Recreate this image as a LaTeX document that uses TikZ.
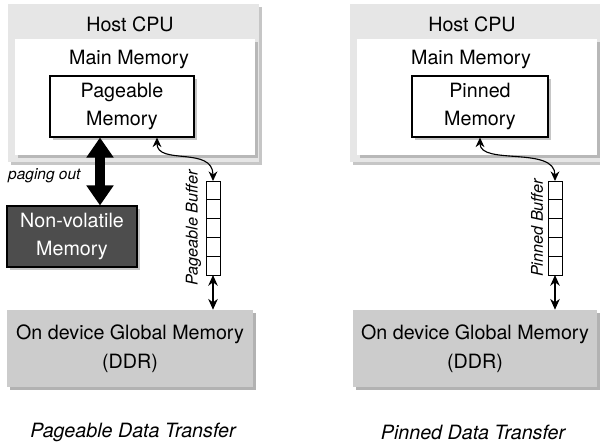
\documentclass[tikz,border=0pt]{standalone}
\usepackage{fontspec}
\setmainfont{TeX Gyre Heros}
\usepackage{xcolor}
\usetikzlibrary{shapes,arrows.meta,positioning,calc,shadows}

\definecolor{hostgray}{HTML}{E6E6E6}
\definecolor{hostshade}{HTML}{C6C6C6}
\definecolor{memshade}{HTML}{B8B8B8}
\definecolor{ddrgray}{HTML}{CCCCCC}
\definecolor{ddrshade}{HTML}{B2B2B2}
\definecolor{nvgray}{HTML}{4D4D4D}

\begin{document}
\begin{tikzpicture}[x=0.025cm, y=-0.025cm,
    box/.style={rectangle, inner sep=0pt, align=center, font=\fontsize{14}{20.5}\selectfont},
    shade/.style={general shadow={fill=#1, shadow xshift=0.075cm, shadow yshift=-0.075cm}},
    host/.style={box, fill=hostgray, shade=hostshade, minimum height=3.95cm},
    mainmem/.style={box, fill=white, shade=memshade, minimum width=6cm, minimum height=2.9cm},
    hostmem/.style={box, draw, line width=0.75pt, fill=white, shade=hostshade, minimum height=1.525cm},
    nvmem/.style={box, draw, line width=0.75pt, fill=nvgray, text=white, shade=hostshade, minimum width=3.25cm, minimum height=1.525cm},
    ddr/.style={box, fill=ddrgray, shade=ddrshade, minimum height=1.925cm},
    title/.style={font=\fontsize{14}{17}\selectfont},
    cell/.style={rectangle, draw, line width=0.65pt, fill=white, minimum width=0.35cm, minimum height=0.47cm, inner sep=0pt, outer sep=0pt},
    buflabel/.style={rotate=90, anchor=south, font=\fontsize{11.5}{13}\selectfont\itshape},
    caption/.style={font=\fontsize{14}{17}\selectfont\itshape},
    link/.style={{Stealth[length=0.24cm,width=0.22cm]}-{Stealth[length=0.24cm,width=0.22cm]}, line width=0.8pt},
    dbl/.style={{Stealth[length=0.27cm,width=0.24cm]}-{Stealth[length=0.27cm,width=0.24cm]}, line width=1.1pt},
    bigarrow/.style={{Triangle[length=0.5cm,width=0.65cm]}-{Triangle[length=0.5cm,width=0.65cm]}, line width=0.25cm}]

    \useasboundingbox (0,0) rectangle (600,446);

    % pageable side
    \node[host, minimum width=6.275cm] (hostL) at (133.5,83) {};
    \node[title] (cpuL) at (130,24) {Host CPU};
    \node[mainmem] (memL) at (135,97) {};
    \node[title] (mmL) at (129,59) {Main Memory};
    \node[hostmem, minimum width=3.6cm] (pageL) at (122,106.5) {Pageable\\Memory};
    \node[nvmem] (nvL) at (72,236.5) {Non-volatile\\Memory};
    \node[ddr, minimum width=6.15cm] (ddrL) at (130,348.5) {On device Global Memory\\(DDR)};

    \node[cell] (bufL1) at (213,190.4) {};
    \foreach \i [evaluate=\i as \j using int(\i-1)] in {2,...,5}
        \node[cell, below=0pt of bufL\j] (bufL\i) {};
    \node[buflabel] (labL) at (bufL3.west) {Pageable Buffer};

    \draw[bigarrow] ([xshift=-0.55cm]pageL.south) -- node[left=7pt, pos=0.56, font=\fontsize{11}{13}\selectfont\itshape] {paging out} ([xshift=-0.55cm]pageL.south |- nvL.north);
    \draw[link] ([xshift=0.875cm]pageL.south) .. controls +(0,28) and +(0,-35) .. (bufL1.north);
    \draw[dbl] (bufL5.south) -- (bufL5.south |- ddrL.north);

    \node[caption] (capL) at (133,432) {Pageable Data Transfer};

    % pinned side
    \node[host, minimum width=6.25cm] (hostR) at (475,83) {};
    \node[title] (cpuR) at (472,24) {Host CPU};
    \node[mainmem] (memR) at (477,97) {};
    \node[title] (mmR) at (471,59) {Main Memory};
    \node[hostmem, minimum width=3.4cm] (pinR) at (480,106.5) {Pinned\\Memory};
    \node[ddr, minimum width=6.1cm] (ddrR) at (475,348.5) {On device Global Memory\\(DDR)};

    \node[cell] (bufR1) at (555,190.4) {};
    \foreach \i [evaluate=\i as \j using int(\i-1)] in {2,...,5}
        \node[cell, below=0pt of bufR\j] (bufR\i) {};
    \node[buflabel] (labR) at (bufR3.west) {Pinned Buffer};

    \draw[link] (pinR.south) .. controls +(0,28) and +(0,-35) .. (bufR1.north);
    \draw[dbl] (bufR5.south) -- (bufR5.south |- ddrR.north);

    \node[caption] (capR) at (473,432) {Pinned Data Transfer};
\end{tikzpicture}
\end{document}
